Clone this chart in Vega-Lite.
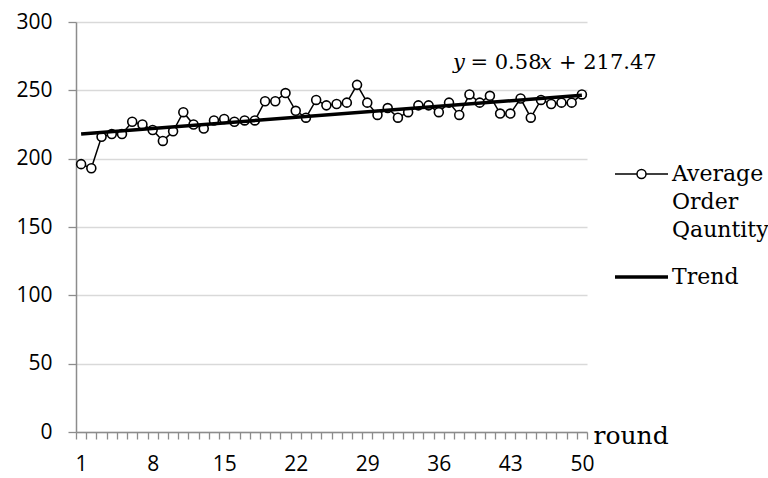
{
  "$schema": "https://vega.github.io/schema/vega-lite/v6.json",
  "width": 511,
  "height": 410,
  "autosize": {"type": "none"},
  "padding": {"left": 76, "top": 22, "right": 181, "bottom": 46},
  "background": "white",
  "config": {"view": {"stroke": null}, "font": "DejaVu Serif"},
  "datasets": {
    "orders": [
      {"round": 1, "value": 196, "series": "Average Order Qauntity"},
      {"round": 2, "value": 193, "series": "Average Order Qauntity"},
      {"round": 3, "value": 216, "series": "Average Order Qauntity"},
      {"round": 4, "value": 218, "series": "Average Order Qauntity"},
      {"round": 5, "value": 218, "series": "Average Order Qauntity"},
      {"round": 6, "value": 227, "series": "Average Order Qauntity"},
      {"round": 7, "value": 225, "series": "Average Order Qauntity"},
      {"round": 8, "value": 221, "series": "Average Order Qauntity"},
      {"round": 9, "value": 213, "series": "Average Order Qauntity"},
      {"round": 10, "value": 220, "series": "Average Order Qauntity"},
      {"round": 11, "value": 234, "series": "Average Order Qauntity"},
      {"round": 12, "value": 225, "series": "Average Order Qauntity"},
      {"round": 13, "value": 222, "series": "Average Order Qauntity"},
      {"round": 14, "value": 228, "series": "Average Order Qauntity"},
      {"round": 15, "value": 229, "series": "Average Order Qauntity"},
      {"round": 16, "value": 227, "series": "Average Order Qauntity"},
      {"round": 17, "value": 228, "series": "Average Order Qauntity"},
      {"round": 18, "value": 228, "series": "Average Order Qauntity"},
      {"round": 19, "value": 242, "series": "Average Order Qauntity"},
      {"round": 20, "value": 242, "series": "Average Order Qauntity"},
      {"round": 21, "value": 248, "series": "Average Order Qauntity"},
      {"round": 22, "value": 235, "series": "Average Order Qauntity"},
      {"round": 23, "value": 230, "series": "Average Order Qauntity"},
      {"round": 24, "value": 243, "series": "Average Order Qauntity"},
      {"round": 25, "value": 239, "series": "Average Order Qauntity"},
      {"round": 26, "value": 240, "series": "Average Order Qauntity"},
      {"round": 27, "value": 241, "series": "Average Order Qauntity"},
      {"round": 28, "value": 254, "series": "Average Order Qauntity"},
      {"round": 29, "value": 241, "series": "Average Order Qauntity"},
      {"round": 30, "value": 232, "series": "Average Order Qauntity"},
      {"round": 31, "value": 237, "series": "Average Order Qauntity"},
      {"round": 32, "value": 230, "series": "Average Order Qauntity"},
      {"round": 33, "value": 234, "series": "Average Order Qauntity"},
      {"round": 34, "value": 239, "series": "Average Order Qauntity"},
      {"round": 35, "value": 239, "series": "Average Order Qauntity"},
      {"round": 36, "value": 234, "series": "Average Order Qauntity"},
      {"round": 37, "value": 241, "series": "Average Order Qauntity"},
      {"round": 38, "value": 232, "series": "Average Order Qauntity"},
      {"round": 39, "value": 247, "series": "Average Order Qauntity"},
      {"round": 40, "value": 241, "series": "Average Order Qauntity"},
      {"round": 41, "value": 246, "series": "Average Order Qauntity"},
      {"round": 42, "value": 233, "series": "Average Order Qauntity"},
      {"round": 43, "value": 233, "series": "Average Order Qauntity"},
      {"round": 44, "value": 244, "series": "Average Order Qauntity"},
      {"round": 45, "value": 230, "series": "Average Order Qauntity"},
      {"round": 46, "value": 243, "series": "Average Order Qauntity"},
      {"round": 47, "value": 240, "series": "Average Order Qauntity"},
      {"round": 48, "value": 241, "series": "Average Order Qauntity"},
      {"round": 49, "value": 241, "series": "Average Order Qauntity"},
      {"round": 50, "value": 247, "series": "Average Order Qauntity"}
    ],
    "trend": [
      {"round": 1, "value": 218.05, "series": "Trend"},
      {"round": 50, "value": 246.47, "series": "Trend"}
    ],
    "eqItalic": [
      {"round": 37.39, "value": 265.4, "t": "y"},
      {"round": 45.9, "value": 265.4, "t": "x"}
    ],
    "eqRoman": [
      {"round": 39.1, "value": 265.4, "t": "= 0.58"},
      {"round": 47.75, "value": 265.4, "t": "+ 217.47"}
    ]
  },
  "layer": [
    {
      "data": {"name": "orders"},
      "mark": {"type": "line", "strokeWidth": 1.5},
      "encoding": {
        "x": {
          "field": "round", "type": "quantitative",
          "scale": {"domain": [0.5, 50.5], "nice": false, "zero": false},
          "axis": {
            "title": "round",
            "titleFont": "DejaVu Serif", "titleFontSize": 25, "titleFontWeight": "normal", "titleColor": "black",
            "titleX": 517, "titleY": 11, "titleAlign": "left", "titleBaseline": "alphabetic", "titleAnchor": null, "titleAngle": 0,
            "values": [0.5,1.5,2.5,3.5,4.5,5.5,6.5,7.5,8.5,9.5,10.5,11.5,12.5,13.5,14.5,15.5,16.5,17.5,18.5,19.5,20.5,21.5,22.5,23.5,24.5,25.5,26.5,27.5,28.5,29.5,30.5,31.5,32.5,33.5,34.5,35.5,36.5,37.5,38.5,39.5,40.5,41.5,42.5,43.5,44.5,45.5,46.5,47.5,48.5,49.5,50.5],
            "tickCount": 60,
            "labelExpr": "(datum.value + 0.5) % 7 == 1 && (datum.value + 0.5) <= 50 ? toString(datum.value + 0.5) : ''",
            "labelOffset": 5.11,
            "labelOverlap": false,
            "labelFlush": false,
            "labelBound": false,
            "labelFont": "Open Sans", "labelFontSize": 21, "labelColor": "black",
            "labelPadding": 14, "labelBaseline": "top",
            "tickSize": 7, "tickColor": "#8c8c8c", "tickWidth": 1.3,
            "domainColor": "#8c8c8c", "domainWidth": 1.5,
            "grid": false
          }
        },
        "y": {
          "field": "value", "type": "quantitative",
          "scale": {"domain": [0, 300], "nice": false, "zero": true},
          "axis": {
            "title": null,
            "values": [0, 50, 100, 150, 200, 250, 300],
            "labelFont": "Open Sans", "labelFontSize": 21, "labelColor": "black",
            "labelPadding": 16,
            "tickSize": 8, "tickColor": "#8c8c8c", "tickWidth": 1.3,
            "domainColor": "#8c8c8c", "domainWidth": 1.5,
            "grid": true, "gridColor": "#d9d9d9", "gridWidth": 1.3
          }
        },
        "stroke": {
          "field": "series", "type": "nominal",
          "scale": {"domain": ["Average Order Qauntity", "Trend"], "range": ["black", "black"]},
          "legend": {
            "title": null,
            "orient": "none",
            "legendX": 539,
            "legendY": 140,
            "padding": 0,
            "symbolSize": 2809,
            "labelFont": "DejaVu Serif", "labelFontSize": 22, "labelColor": "black",
            "labelOffset": 4,
            "labelLimit": 300,
            "rowPadding": 24,
            "labelExpr": "datum.label == 'Average Order Qauntity' ? ['Average', 'Order', 'Qauntity'] : datum.label",
            "encode": {
              "symbols": {
                "update": {
                  "shape": {"signal": "datum.value === 'Trend' ? 'M-1,0H1' : 'M-1,0H-0.17M0.17,0H1M-0.17,0A0.17,0.17,0,1,1,0.17,0A0.17,0.17,0,1,1,-0.17,0Z'"},
                  "strokeWidth": {"signal": "datum.value === 'Trend' ? 3.5 : 1.5"},
                  "stroke": {"value": "black"},
                  "fill": {"value": "white"},
                  "fillOpacity": {"value": 1},
                  "size": {"value": 2809},
                  "x": {"value": 26.5},
                  "y": {"value": 12}
                }
              },
              "labels": {
                "update": {
                  "lineHeight": {"value": 28},
                  "x": {"value": 57},
                  "y": {"value": 12},
                  "baseline": {"value": "middle"}
                }
              }
            }
          }
        }
      }
    },
    {
      "data": {"name": "orders"},
      "mark": {"type": "point", "shape": "circle", "filled": true, "fill": "white", "stroke": "black", "strokeWidth": 1.6, "size": 80, "opacity": 1},
      "encoding": {
        "x": {"field": "round", "type": "quantitative"},
        "y": {"field": "value", "type": "quantitative"}
      }
    },
    {
      "data": {"name": "trend"},
      "mark": {"type": "line", "strokeWidth": 3.5},
      "encoding": {
        "x": {"field": "round", "type": "quantitative"},
        "y": {"field": "value", "type": "quantitative"},
        "stroke": {"field": "series", "type": "nominal"}
      }
    },
    {
      "data": {"name": "eqItalic"},
      "mark": {"type": "text", "align": "left", "baseline": "alphabetic", "font": "DejaVu Serif", "fontSize": 21, "fontStyle": "italic", "color": "black"},
      "encoding": {
        "x": {"field": "round", "type": "quantitative"},
        "y": {"field": "value", "type": "quantitative"},
        "text": {"field": "t"}
      }
    },
    {
      "data": {"name": "eqRoman"},
      "mark": {"type": "text", "align": "left", "baseline": "alphabetic", "font": "DejaVu Serif", "fontSize": 21, "color": "black"},
      "encoding": {
        "x": {"field": "round", "type": "quantitative"},
        "y": {"field": "value", "type": "quantitative"},
        "text": {"field": "t"}
      }
    }
  ]
}
